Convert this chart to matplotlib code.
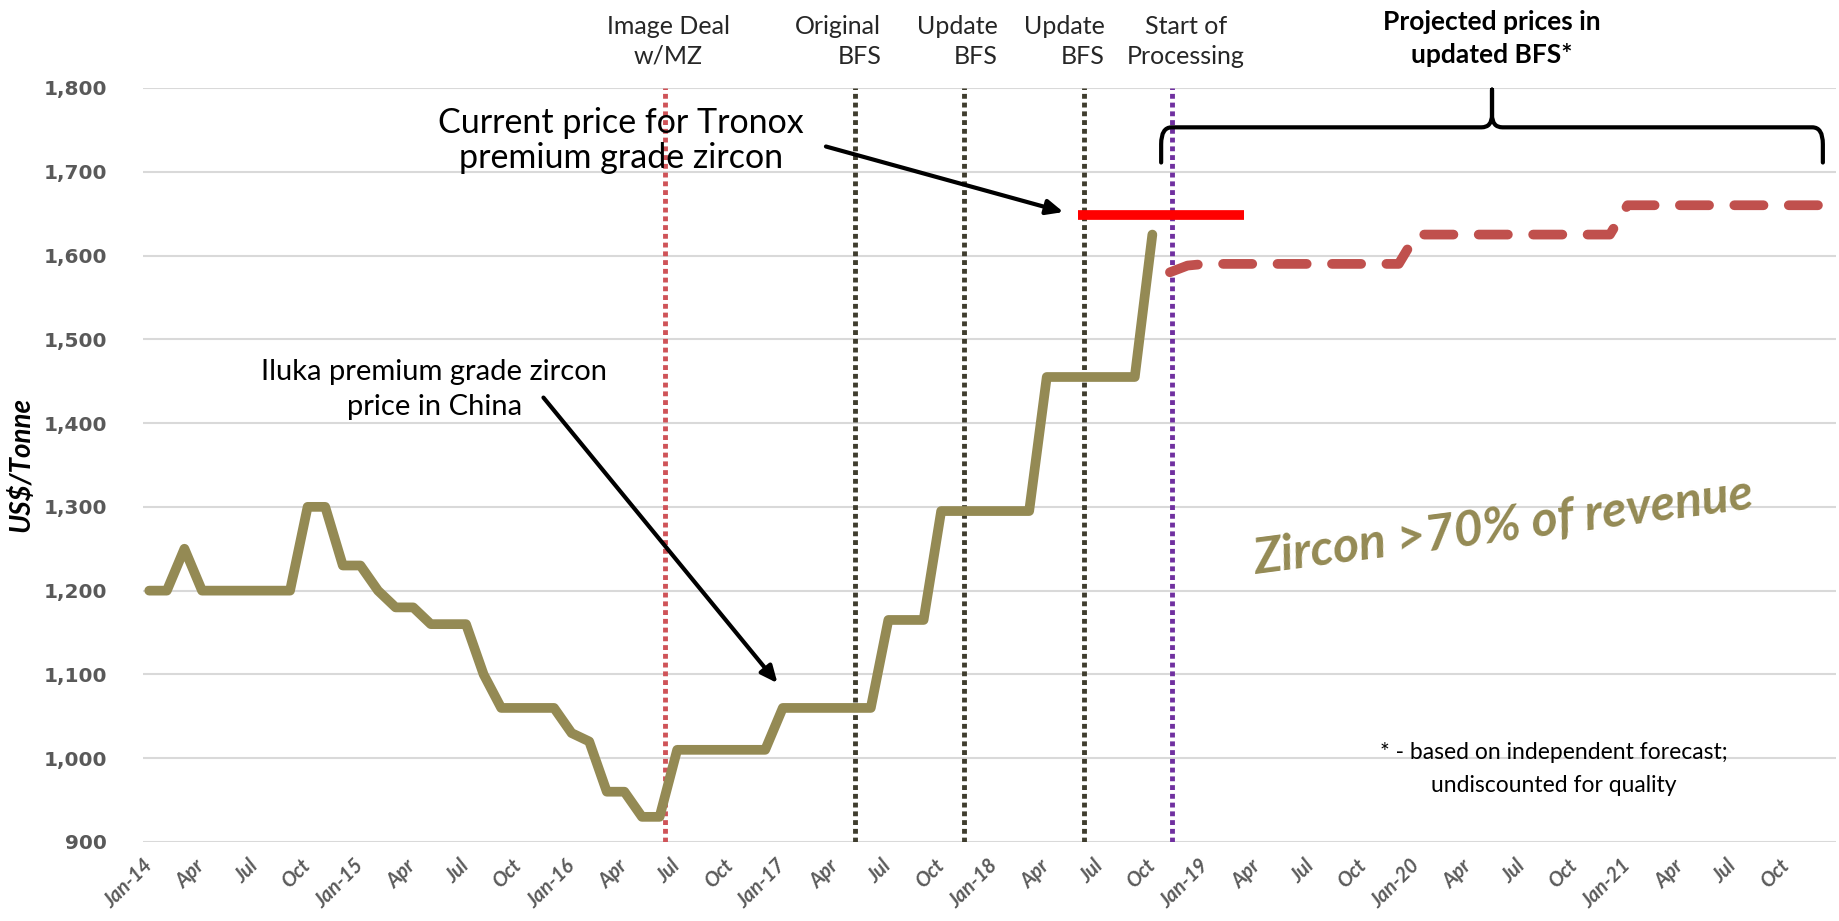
import matplotlib.pyplot as plt
from matplotlib.path import Path
from matplotlib.patches import PathPatch
from matplotlib.transforms import blended_transform_factory, ScaledTranslation

plt.rcParams['font.family'] = ['Lato', 'DejaVu Sans']

# month index: 0 = Jan-14
hist_price = [1200, 1200, 1250, 1200, 1200, 1200, 1200, 1200, 1200, 1300, 1300, 1230,
              1230, 1200, 1180, 1180, 1160, 1160, 1160, 1100, 1060, 1060, 1060, 1060,
              1030, 1020, 960, 960, 930, 930, 1010, 1010, 1010, 1010, 1010, 1010,
              1060, 1060, 1060, 1060, 1060, 1060, 1165, 1165, 1165, 1295, 1295, 1295,
              1295, 1295, 1295, 1455, 1455, 1455, 1455, 1455, 1455, 1625]
proj_start = 58  # Nov-18
proj_price = [1580, 1588,
              1590, 1590, 1590, 1590, 1590, 1590, 1590, 1590, 1590, 1590, 1590, 1590,
              1625, 1625, 1625, 1625, 1625, 1625, 1625, 1625, 1625, 1625, 1625, 1625,
              1660, 1660, 1660, 1660, 1660, 1660, 1660, 1660, 1660, 1660, 1660, 1660]

tronox_price = 1648
tronox_span = [52.8, 62.2]

event_x = [29.3, 40.1, 46.3, 53.1, 58.1]
event_labels = ['Image Deal\nw/MZ', 'Original\nBFS', 'Update\nBFS', 'Update\nBFS', 'Start of\nProcessing']
event_colors = ['#CF5358', '#3F3D2E', '#3F3D2E', '#3F3D2E', '#7030A0']
label_x = [29.5, 41.6, 48.2, 54.3, 58.9]
label_ha = ['center', 'right', 'right', 'right', 'center']

years = ['14', '15', '16', '17', '18', '19', '20', '21']
tick_labels = []
for yr in years:
    tick_labels += ['Jan-' + yr, 'Apr', 'Jul', 'Oct']
tick_pos = list(range(0, 96, 3))

fig = plt.figure(figsize=(18.39, 9.21), dpi=100)
ax = fig.add_axes([0.0778, 0.0858, 0.9206, 0.8187])

gold = '#948A54'
ax.plot(range(len(hist_price)), hist_price, color=gold, lw=7,
        solid_capstyle='round', solid_joinstyle='round', zorder=4)
ax.plot(range(proj_start, proj_start + len(proj_price)), proj_price, color='#C0504D',
        lw=7, ls=(0, (3, 2.6)), dash_capstyle='round', zorder=4)
ax.plot(tronox_span, [tronox_price, tronox_price], color='#FF0000', lw=7,
        solid_capstyle='butt', zorder=5)

trans = blended_transform_factory(ax.transData, ax.transAxes)
for x, c in zip(event_x, event_colors):
    ax.axvline(x, color=c, lw=3.5, ls=(0, (1, 0.8)), zorder=3)
for x, lab, ha in zip(label_x, event_labels, label_ha):
    ax.text(x, 1.062, lab, transform=trans, ha=ha, va='center', multialignment=ha,
            fontsize=18, color='#262626', linespacing=1.35)

ax.text(76.3, 1.066, 'Projected prices in\nupdated BFS*', transform=trans, ha='center',
        va='center', fontsize=19, fontweight='bold', linespacing=1.45)

# brace over the projection period
x0, x1, xm = 57.5, 95.1, 76.3
yb, ye, yt = 1753, 1711, 1798
verts = [(x0, ye), (x0, yb - 20), (x0, yb), (x0 + 0.6, yb), (xm - 0.6, yb), (xm, yb),
         (xm, yb + 15), (xm, yt), (xm, yb + 15), (xm, yb), (xm + 0.6, yb),
         (x1 - 0.6, yb), (x1, yb), (x1, yb - 20), (x1, ye)]
codes = [Path.MOVETO, Path.LINETO, Path.CURVE3, Path.CURVE3, Path.LINETO, Path.CURVE3,
         Path.CURVE3, Path.LINETO, Path.LINETO, Path.CURVE3, Path.CURVE3,
         Path.LINETO, Path.CURVE3, Path.CURVE3, Path.LINETO]
ax.add_patch(PathPatch(Path(verts, codes), fill=False, lw=3, color='black',
                       capstyle='round', joinstyle='round', clip_on=False, zorder=6))

arrow = dict(arrowstyle='-|>,head_length=1.0,head_width=0.45', color='black', lw=3)
ax.annotate('', xy=(52.1, 1651), xytext=(38.3, 1731), arrowprops=arrow)
ax.text(26.8, 1737, 'Current price for Tronox\npremium grade zircon', ha='center',
        va='center', fontsize=24.5, linespacing=1.1)

ax.annotate('', xy=(35.8, 1087), xytext=(22.3, 1433), arrowprops=arrow)
ax.text(16.2, 1440, 'Iluka premium grade zircon\nprice in China', ha='center',
        va='center', fontsize=21, linespacing=1.4)

ax.text(77.0, 1276, 'Zircon >70% of revenue', ha='center', va='center', rotation=7.5,
        fontsize=36, fontweight='bold', fontstyle='italic', color=gold)
ax.text(79.8, 987, '* - based on independent forecast;\nundiscounted for quality',
        ha='center', va='center', fontsize=16.5, linespacing=1.7)

ax.set_xlim(-0.35, 95.85)
ax.set_ylim(900, 1800)
ax.set_yticks(range(900, 1801, 100))
ax.set_yticklabels([f'{v:,}' for v in range(900, 1801, 100)], fontfamily='DejaVu Sans',
                   fontweight='bold', fontsize=14.5, color='#595959')
ax.set_xticks(tick_pos)
ax.set_xticklabels(tick_labels, rotation=45, ha='right', va='center', rotation_mode='anchor',
                   fontstyle='italic', fontweight='bold', fontsize=14.5, color='#5A5A5A')
shift = ScaledTranslation(8 / 100, 0, fig.dpi_scale_trans)
for lab in ax.get_xticklabels():
    lab.set_transform(lab.get_transform() + shift)
ax.tick_params(axis='both', length=0)
ax.tick_params(axis='y', pad=26)
ax.tick_params(axis='x', pad=15)
ax.grid(axis='y', color='#D9D9D9', lw=1.5)
ax.set_axisbelow(True)
for s in ax.spines.values():
    s.set_visible(False)

ax.set_ylabel('US$/Tonne', fontsize=20, fontweight='bold', fontstyle='italic')
ax.yaxis.set_label_coords(-0.064, 0.5)

fig.savefig('out.png', dpi=100)
